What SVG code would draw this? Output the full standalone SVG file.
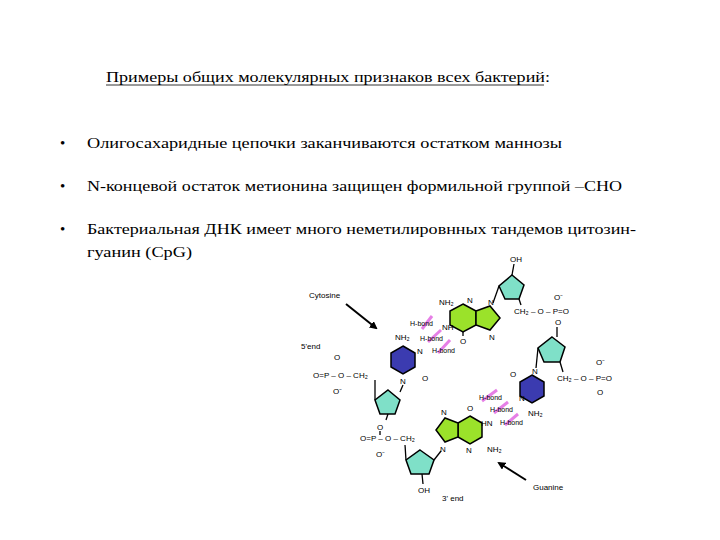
<svg xmlns="http://www.w3.org/2000/svg" width="720" height="540" viewBox="0 0 720 540">
<defs>
<style>
.t{font-family:"Liberation Serif",serif;font-size:15px;fill:#000}
.c{font-family:"Liberation Sans",sans-serif;font-size:8px;fill:#000}
.hb{font-family:"Liberation Sans",sans-serif;font-size:7px;fill:#000}
.sug{fill:#7fe0c8;stroke:#000;stroke-width:1.5}
.gua{fill:#9be22a;stroke:#000;stroke-width:1.5}
.cyt{fill:#3b3bb0;stroke:#000;stroke-width:1.5}
.b{stroke:#000;stroke-width:1.3;fill:none}
.m{stroke:#e060e0;stroke-width:3;opacity:.8}
</style>
<marker id="ah" markerWidth="8" markerHeight="8" refX="6" refY="4" orient="auto" markerUnits="userSpaceOnUse"><path d="M0,0L8,4L0,8z" fill="#000"/></marker>
</defs>
<rect width="720" height="540" fill="#fff"/>
<g id="text">
<text class="t" x="106" y="82" textLength="444" lengthAdjust="spacingAndGlyphs">Примеры общих молекулярных признаков всех бактерий:</text>
<line x1="106" y1="85" x2="544" y2="85" stroke="#000" stroke-width="0.8"/>
<text class="t" x="60" y="148">•</text><text class="t" x="87" y="148" textLength="475" lengthAdjust="spacingAndGlyphs">Олигосахаридные цепочки  заканчиваются остатком маннозы</text>
<text class="t" x="60" y="191">•</text><text class="t" x="87" y="191" textLength="535" lengthAdjust="spacingAndGlyphs">N-концевой остаток метионина защищен формильной группой –CHO</text>
<text class="t" x="60" y="234">•</text><text class="t" x="87" y="234" textLength="549" lengthAdjust="spacingAndGlyphs">Бактериальная ДНК имеет много неметилировнных тандемов цитозин-</text>
<text class="t" x="87" y="257" textLength="105" lengthAdjust="spacingAndGlyphs">гуанин (CpG)</text>
</g>
<g id="molecule">
<polygon class="gua" points="463,304 476,311 476,325 463,332 450,325 450,311"/>
<polygon class="gua" points="476,311 490,306 500,318 490,330 476,325"/>
<text class="c" x="439" y="305">NH₂</text><text class="c" x="467" y="303">N</text>
<text class="c" x="442" y="330">NH</text><text class="c" x="460" y="344">O</text>
<text class="c" x="489" y="340">N</text><text class="c" x="488" y="305">N</text>
<line class="b" x1="463" y1="332" x2="463" y2="336"/>
<polygon class="sug" points="512,275 524,285 519,299 505,299 499,286"/>
<line class="b" x1="512" y1="275" x2="514" y2="264"/>
<text class="c" x="510" y="262">OH</text>
<line class="b" x1="499" y1="286" x2="493" y2="303"/>
<line class="b" x1="519" y1="299" x2="521" y2="305"/>
<text class="c" x="514" y="314">CH₂ – O – P=O</text>
<text class="c" x="554" y="300">O⁻</text><text class="c" x="555" y="325">O</text>
<line class="b" x1="557" y1="327" x2="557" y2="337"/>
<polygon class="sug" points="552,337 565,347 560,362 544,362 538,348"/>
<line class="b" x1="538" y1="348" x2="536" y2="368"/>
<line class="b" x1="560" y1="362" x2="563" y2="372"/>
<text class="c" x="557" y="381">CH₂ – O – P=O</text>
<text class="c" x="596" y="365">O⁻</text><text class="c" x="597" y="395">O</text>
<polygon class="cyt" points="532,375 544,382 544,396 532,403 520,396 520,382"/>
<text class="c" x="532" y="374">N</text><text class="c" x="510" y="377">O</text>
<text class="c" x="519" y="401">N</text><text class="c" x="528" y="416">NH₂</text>
<polygon class="cyt" points="403,346 415,353 415,367 403,374 391,367 391,353"/>
<text class="c" x="395" y="340">NH₂</text><text class="c" x="417" y="354">N</text>
<text class="c" x="422" y="381">O</text><text class="c" x="400" y="384">N</text>
<line class="b" x1="403" y1="385" x2="400" y2="392"/>
<polygon class="sug" points="388,390 400,400 395,414 380,414 375,400"/>
<line class="b" x1="375" y1="400" x2="375" y2="380"/>
<line class="b" x1="388" y1="414" x2="386" y2="420"/>
<text class="c" x="313" y="378">O=P – O – CH₂</text>
<text class="c" x="334" y="360">O</text><text class="c" x="333" y="394">O⁻</text>
<text class="c" x="377" y="430">O</text>
<line class="b" x1="380" y1="431" x2="380" y2="435"/>
<text class="c" x="360" y="441">O=P – O – CH₂</text>
<text class="c" x="376" y="457">O⁻</text>
<polygon class="gua" points="470,416 482,423 482,437 470,444 458,437 458,423"/>
<polygon class="gua" points="458,423 445,418 436,430 445,442 458,437"/>
<text class="c" x="467" y="411">O</text><text class="c" x="481" y="426">HN</text>
<text class="c" x="441" y="415">N</text><text class="c" x="440" y="452">N</text>
<text class="c" x="466" y="453">N</text><text class="c" x="487" y="452">NH₂</text>
<polygon class="sug" points="420,450 434,460 429,474 411,474 406,460"/>
<line class="b" x1="406" y1="460" x2="405" y2="445"/>
<line class="b" x1="434" y1="460" x2="441" y2="451"/>
<line class="b" x1="422" y1="474" x2="423" y2="484"/>
<text class="c" x="418" y="493">OH</text>
<line class="m" x1="422" y1="329" x2="432" y2="316"/>
<line class="m" x1="428" y1="342" x2="441" y2="330"/>
<line class="m" x1="438" y1="353" x2="450" y2="340"/>
<line class="m" x1="482" y1="401" x2="497" y2="390"/>
<line class="m" x1="494" y1="413" x2="508" y2="402"/>
<line class="m" x1="505" y1="425" x2="518" y2="414"/>
<text class="hb" x="410" y="326">H-bond</text><text class="hb" x="420" y="341">H-bond</text>
<text class="hb" x="432" y="353">H-bond</text>
<text class="hb" x="479" y="400">H-bond</text><text class="hb" x="490" y="412">H-bond</text>
<text class="hb" x="500" y="425">H-bond</text>
<text class="c" x="309" y="298" fill="#444">Cytosine</text>
<line x1="346" y1="304" x2="376" y2="328" stroke="#000" stroke-width="2" marker-end="url(#ah)"/>
<text class="c" x="533" y="490">Guanine</text>
<line x1="526" y1="480" x2="499" y2="463" stroke="#000" stroke-width="2" marker-end="url(#ah)"/>
<text class="c" x="301" y="349" fill="#444">5'end</text>
<text class="c" x="442" y="501">3' end</text>
</g>
</svg>
